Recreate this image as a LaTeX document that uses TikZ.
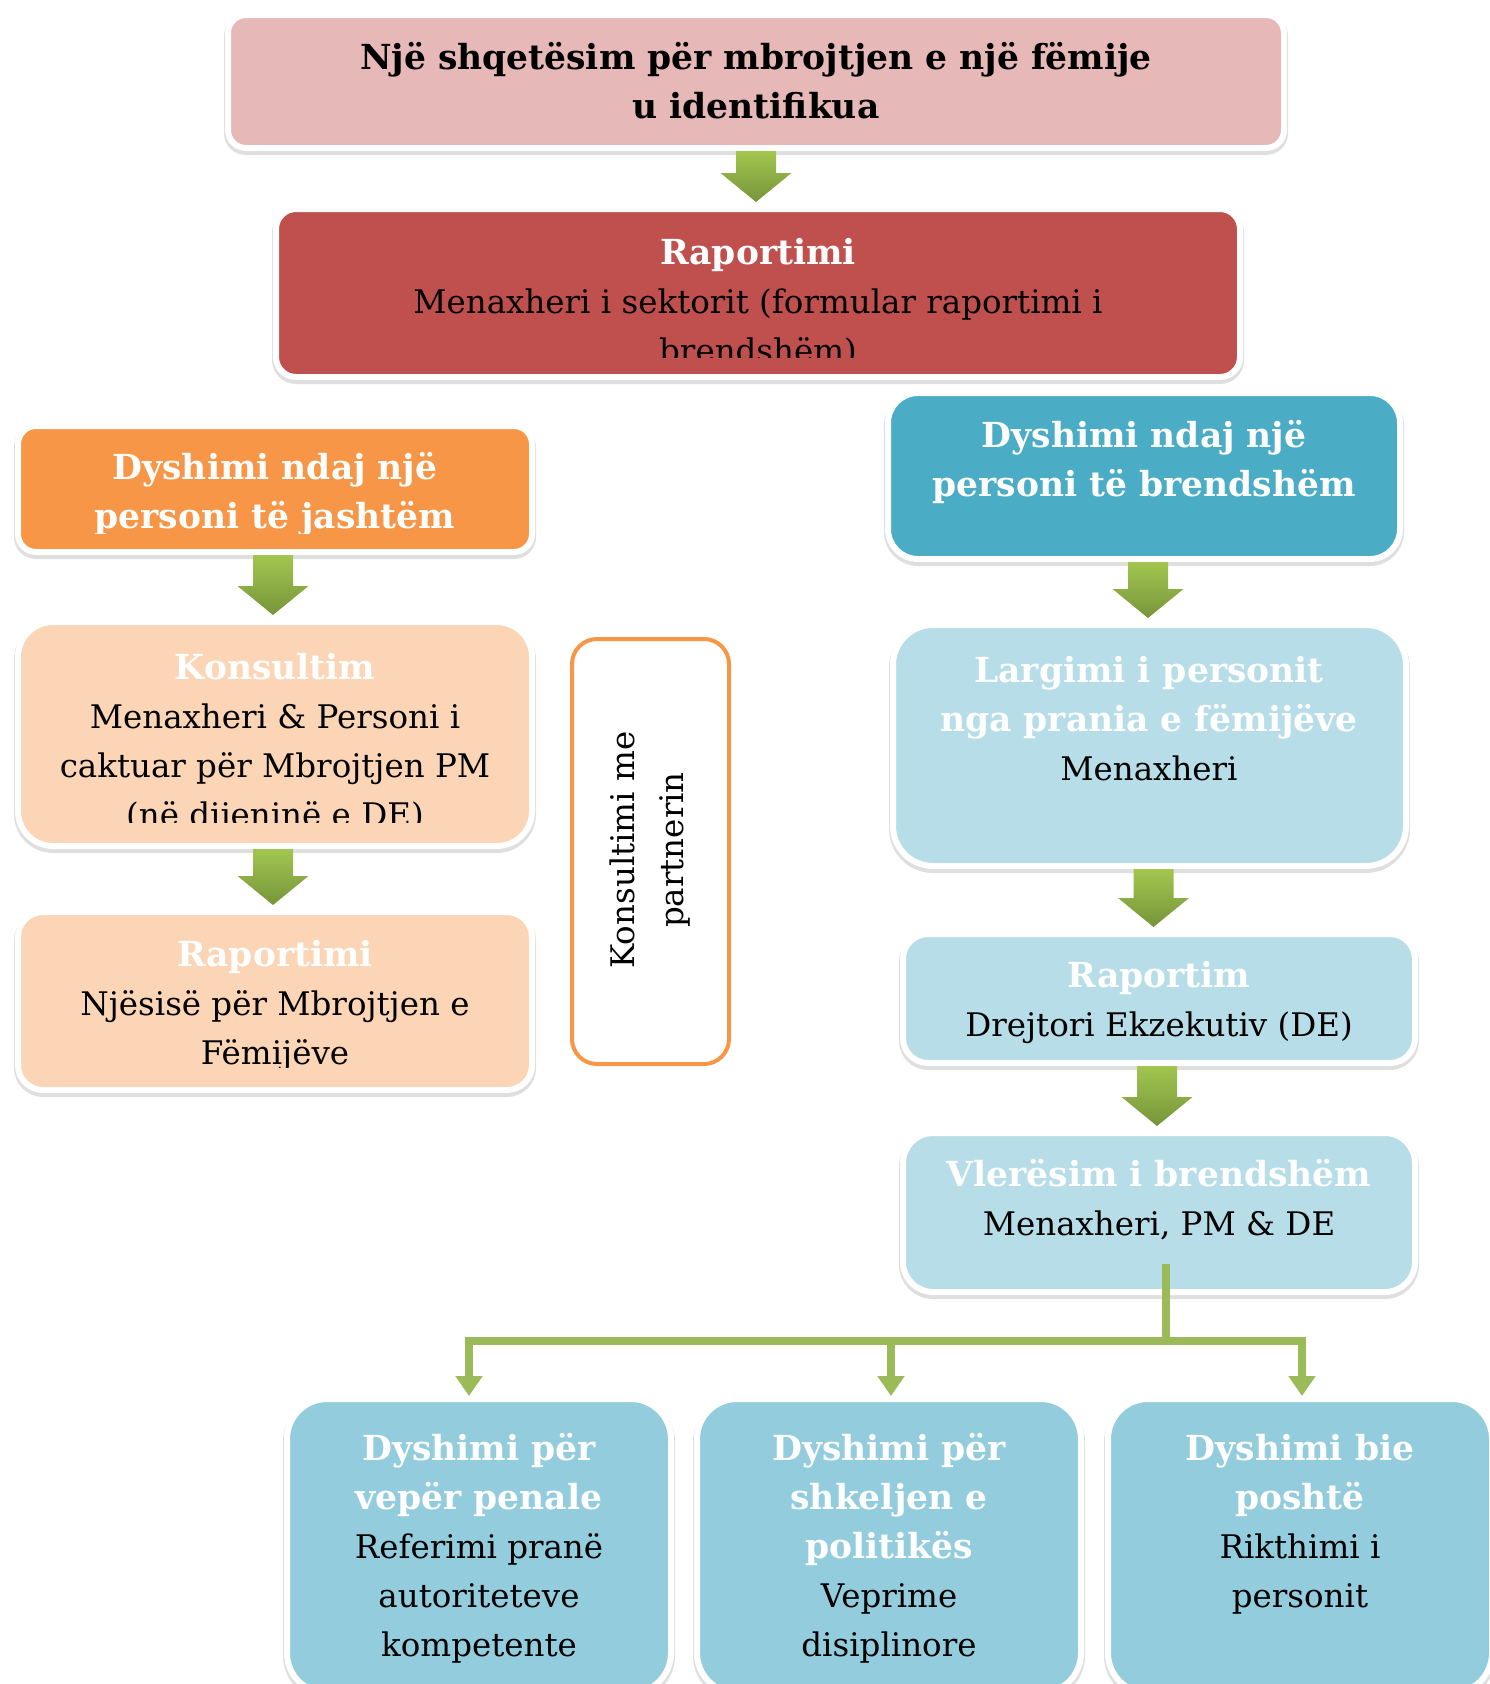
\documentclass[tikz,border=0pt]{standalone}
\usepackage{fontspec}
\setmainfont{DejaVu Serif}
\usetikzlibrary{shadows}
\usetikzlibrary{arrows.meta}
\definecolor{pinkbox}{HTML}{E6B8B7}
\definecolor{redbox}{HTML}{C0504D}
\definecolor{orangebox}{HTML}{F79646}
\definecolor{peachbox}{HTML}{FBD5B5}
\definecolor{bluebox}{HTML}{4BACC6}
\definecolor{palebox}{HTML}{B7DEE8}
\definecolor{skybox}{HTML}{93CDDD}
\definecolor{arrowtop}{HTML}{A2C64F}
\definecolor{arrowbot}{HTML}{76953A}
\definecolor{linegreen}{HTML}{9BBB59}
\newcommand{\kryetitull}[1]{{\fontsize{34.5}{49}\selectfont\bfseries #1}}
\newcommand{\titull}[1]{{\color{white}\kryetitull{#1}}}
% shigjeta e trashe: #1 nisja, #2 kutia poshte
\newcommand{\shigjeta}[2]{%
	\coordinate (sa) at (#1);
	\coordinate (sb) at (sa |- #2.north);
	\shade[top color=arrowtop, bottom color=arrowbot]
		([xshift=-20pt]sa) -- ([xshift=20pt]sa) -- ([xshift=20pt, yshift=33pt]sb)
		-- ([xshift=35.5pt, yshift=33pt]sb) -- ([yshift=4pt]sb)
		-- ([xshift=-35.5pt, yshift=33pt]sb) -- ([xshift=-20pt, yshift=33pt]sb) -- cycle;}
\tikzset{
	box/.style = {rectangle, draw=white, line width=6pt, inner sep=0pt,
		drop shadow={shadow xshift=0pt, shadow yshift=-3pt, opacity=0.25,
			draw=black!50, line width=8pt, fill=black!50}},% kuti me kornize te bardhe
	txt/.style = {align=center, inner sep=0pt, font=\fontsize{32.5}{49}\selectfont},
	branch/.style = {draw=linegreen, line width=8pt,
		-{Triangle[length=20pt, width=26pt]}}% degezimi poshte
}

\begin{document}
\begin{tikzpicture}[x=1pt, y=-1pt]
	\useasboundingbox (0,0) rectangle (1489,1684);
	% kutite
	\node[box, fill=pinkbox, rounded corners=18pt, minimum width=1056pt, minimum height=133pt] (top) at (756,81.5) {};
	\node[box, fill=redbox, rounded corners=20pt, minimum width=964pt, minimum height=168pt] (rap) at (758,293) {};
	\node[box, fill=orangebox, rounded corners=18pt, minimum width=514pt, minimum height=126pt] (ext) at (275,489) {};
	\node[box, fill=peachbox, rounded corners=35pt, minimum width=514pt, minimum height=224pt] (kons) at (275,734) {};
	\node[box, fill=peachbox, rounded corners=25pt, minimum width=514pt, minimum height=178pt] (rapl) at (275,1001) {};
	\node[rectangle, draw=orangebox, line width=4pt, fill=white, rounded corners=25pt,
		minimum width=157pt, minimum height=425pt] (partner) at (650.5,851.5) {};
	\node[box, fill=bluebox, rounded corners=30pt, minimum width=512pt, minimum height=166pt] (int) at (1144,476) {};
	\node[box, fill=palebox, rounded corners=40pt, minimum width=513pt, minimum height=241pt] (larg) at (1149.5,745.5) {};
	\node[box, fill=palebox, rounded corners=25pt, minimum width=512pt, minimum height=129pt] (rapr) at (1159,998.5) {};
	\node[box, fill=palebox, rounded corners=30pt, minimum width=512pt, minimum height=159pt] (vle) at (1159,1212.5) {};
	\node[box, fill=skybox, rounded corners=40pt, minimum width=384pt, minimum height=294pt] (b1) at (479,1546) {};
	\node[box, fill=skybox, rounded corners=40pt, minimum width=384pt, minimum height=294pt] (b2) at (889,1546) {};
	\node[box, fill=skybox, rounded corners=40pt, minimum width=384pt, minimum height=294pt] (b3) at (1300,1546) {};

	% tekstet
	\node[txt] (top-t) at (756,81) {\kryetitull{Një shqetësim për mbrojtjen e një fëmije}\\\kryetitull{u identifikua}};
	\begin{scope}
		\clip (0,0) rectangle (1489,357);
		\node[txt] (rap-t) at (758,303) {\titull{Raportimi}\\Menaxheri i sektorit (formular raportimi i\\brendshëm)};
	\end{scope}
	\begin{scope}
		\clip (0,400) rectangle (560,533);
		\node[txt] (ext-t) at (275,494) {\titull{Dyshimi ndaj një}\\\titull{personi të jashtëm}};
	\end{scope}
	\begin{scope}
		\clip (0,600) rectangle (560,822);
		\node[txt] (kons-t) at (275,743) {\titull{Konsultim}\\Menaxheri \& Personi i\\caktuar pёr Mbrojtjen PM\\(në dijeninë e DE)};
	\end{scope}
	\begin{scope}
		\clip (0,900) rectangle (560,1067);
		\node[txt] (rapl-t) at (275,1006) {\titull{Raportimi}\\Njësisë për Mbrojtjen e\\Fëmijëve};
	\end{scope}
	\node[txt, rotate=90] (partner-t) at (650,850) {Konsultimi me\\partnerin};
	\node[txt] (int-t) at (1144,462) {\titull{Dyshimi ndaj një}\\\titull{personi të brendshëm}};
	\node[txt] (larg-t) at (1149,719) {\titull{Largimi i personit}\\\titull{nga prania e fëmijëve}\\Menaxheri};
	\node[txt] (rapr-t) at (1159,1002) {\titull{Raportim}\\Drejtori Ekzekutiv (DE)};
	\node[txt] (vle-t) at (1159,1200) {\titull{Vlerësim i brendshëm}\\Menaxheri, PM \& DE};
	\node[txt] (b1-t) at (479,1548) {\titull{Dyshimi për}\\\titull{vepër penale}\\Referimi pranë\\autoriteteve\\kompetente};
	\node[txt] (b2-t) at (889,1548) {\titull{Dyshimi për}\\\titull{shkeljen e}\\\titull{politikës}\\Veprime\\disiplinore};
	\node[txt] (b3-t) at (1300,1524) {\titull{Dyshimi bie}\\\titull{poshtë}\\Rikthimi i\\personit};

	% shigjetat
	\shigjeta{top.south}{rap}
	\shigjeta{[xshift=-2pt]ext.south}{kons}
	\shigjeta{[xshift=-2pt]kons.south}{rapl}
	\shigjeta{[xshift=4pt]int.south}{larg}
	\shigjeta{[xshift=4pt]larg.south}{rapr}
	\shigjeta{[xshift=-2pt]rapr.south}{vle}

	% degezimi
	\coordinate (fork) at ([xshift=7pt, yshift=31pt]vle.south);
	\coordinate (split) at ([yshift=-77pt]fork);
	\draw[branch, -] (fork) -- ([yshift=-4pt]split);
	\draw[branch] (split) -| ([xshift=-10pt]b1.north);
	\draw[branch] (split) -| ([xshift=2pt]b2.north);
	\draw[branch] (split) -| ([xshift=2pt]b3.north);
\end{tikzpicture}
\end{document}
